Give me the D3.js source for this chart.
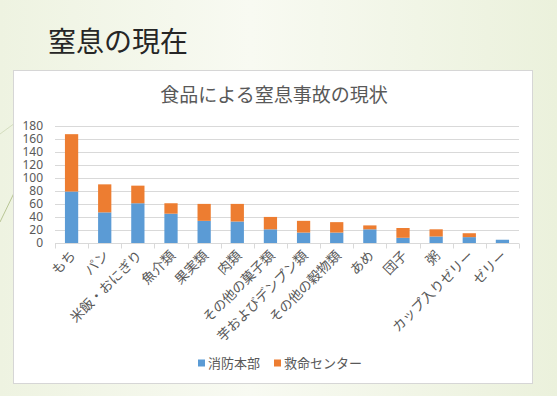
<!DOCTYPE html>
<html lang="ja">
<head>
  <meta charset="UTF-8">
  <title>窒息の現在</title>
  <script src="https://d3js.org/d3.v7.min.js"></script>
  <style>
    body { margin: 0; padding: 0; overflow: hidden; }
    svg { display: block; font-family: 'Noto Sans CJK JP', 'Noto Sans', sans-serif; }
  </style>
</head>
<body>
  <svg id="chart" width="557" height="396"></svg>
  <script>
    // data
    const categories = ["もち", "パン", "米飯・おにぎり", "魚介類", "果実類", "肉類",
      "その他の菓子類", "芋およびデンプン類", "その他の穀物類", "あめ", "団子", "粥",
      "カップ入りゼリー", "ゼリー"];
    const shobo = [79, 47, 61, 45, 34, 33, 21, 16, 16, 21, 8, 10, 9, 5];   // 消防本部
    const kyumei = [88, 43, 27, 16, 26, 27, 19, 18, 16, 6, 15, 11, 6, 0];  // 救命センター
    const seriesNames = ["消防本部", "救命センター"];
    const yTicks = [0, 20, 40, 60, 80, 100, 120, 140, 160, 180];

    const svg = d3.select("#chart");
    const W = 557, H = 396;

    // slide background
    const defs = svg.append("defs");
    const bg = defs.append("linearGradient").attr("id", "bg").attr("x1", 0).attr("x2", 1).attr("y1", 0).attr("y2", 0);
    bg.append("stop").attr("offset", "0%").attr("stop-color", "#eef3e1");
    bg.append("stop").attr("offset", "45%").attr("stop-color", "#f8faf2");
    bg.append("stop").attr("offset", "100%").attr("stop-color", "#ebf1dc");
    svg.append("rect").attr("width", W).attr("height", H).attr("fill", "url(#bg)");

    // decorative lines at the left edge
    svg.append("line").attr("x1", 0).attr("y1", 222).attr("x2", 30).attr("y2", 160)
      .attr("stroke", "#8fa35a").attr("stroke-width", 0.8).attr("opacity", 0.7);
    svg.append("line").attr("x1", 0).attr("y1", 134).attr("x2", 30).attr("y2", 112)
      .attr("stroke", "#b9c79a").attr("stroke-width", 0.8).attr("opacity", 0.6);

    // slide title
    svg.append("text").attr("x", 48).attr("y", 52)
      .attr("font-size", 28).attr("fill", "#262626").text("窒息の現在");

    // chart panel
    svg.append("rect").attr("x", 13.5).attr("y", 70.5).attr("width", 519).attr("height", 313)
      .attr("fill", "#ffffff").attr("stroke", "#d6d6d6");

    svg.append("text").attr("x", 274).attr("y", 102).attr("text-anchor", "middle")
      .attr("font-size", 19).attr("fill", "#595959").text("食品による窒息事故の現状");

    const m = { left: 55, right: 519, top: 125.7, bottom: 243 };

    const x = d3.scaleBand().domain(categories).range([m.left, m.right]).paddingInner(0.6).paddingOuter(0.3);
    const xb = d3.scaleBand().domain(categories).range([m.left, m.right]);
    const y = d3.scaleLinear().domain([0, 180]).range([m.bottom, m.top]);

    // gridlines
    svg.append("g").selectAll("line").data(yTicks.slice(1)).join("line")
      .attr("x1", m.left).attr("x2", m.right)
      .attr("y1", d => Math.round(y(d)) + 0.5).attr("y2", d => Math.round(y(d)) + 0.5)
      .attr("stroke", "#d9d9d9").attr("stroke-width", 1);

    // y axis labels
    const yAxis = d3.axisLeft(y).tickValues(yTicks).tickSize(0).tickPadding(12);
    const gy = svg.append("g").attr("transform", `translate(${m.left},0)`).call(yAxis);
    gy.select(".domain").remove();
    gy.selectAll("text").attr("font-size", 12).attr("fill", "#595959")
      .attr("font-family", "'Noto Sans', sans-serif");

    // stacked bars
    const rows = categories.map((c, i) => ({ cat: c, "消防本部": shobo[i], "救命センター": kyumei[i] }));
    const stack = d3.stack().keys(seriesNames)(rows);
    const colors = d3.scaleOrdinal().domain(seriesNames).range(["#5b9bd5", "#ed7d31"]);

    svg.append("g").selectAll("g").data(stack).join("g")
      .attr("fill", d => colors(d.key))
      .selectAll("rect").data(d => d).join("rect")
      .attr("x", d => x(d.data.cat))
      .attr("width", x.bandwidth())
      .attr("y", d => y(d[1]))
      .attr("height", d => y(d[0]) - y(d[1]));

    // x axis with ticks between categories
    const gx = svg.append("g").attr("transform", `translate(0,${m.bottom + 0.5})`);
    gx.append("line").attr("x1", m.left).attr("x2", m.right).attr("stroke", "#d9d9d9");
    gx.selectAll("line.tk").data(categories.concat(["_end"])).join("line").attr("class", "tk")
      .attr("x1", (d, i) => Math.round(m.left + i * xb.step()) + 0.5)
      .attr("x2", (d, i) => Math.round(m.left + i * xb.step()) + 0.5)
      .attr("y1", 0).attr("y2", 5).attr("stroke", "#d9d9d9");

    gx.selectAll("text").data(categories).join("text")
      .attr("transform", d => `translate(${xb(d) + xb.bandwidth() / 2 + 5},${13}) rotate(-45)`)
      .attr("text-anchor", "end").attr("font-size", 13.5).attr("fill", "#595959")
      .text(d => d);

    // legend
    const legend = svg.append("g").attr("transform", "translate(0,363)");
    const lx = [198, 274];
    seriesNames.forEach((s, i) => {
      legend.append("rect").attr("x", lx[i]).attr("y", -3.5).attr("width", 7).attr("height", 7).attr("fill", colors(s));
      legend.append("text").attr("x", lx[i] + 10).attr("y", 5).attr("font-size", 13)
        .attr("fill", "#595959").text(s);
    });
  </script>
</body>
</html>
